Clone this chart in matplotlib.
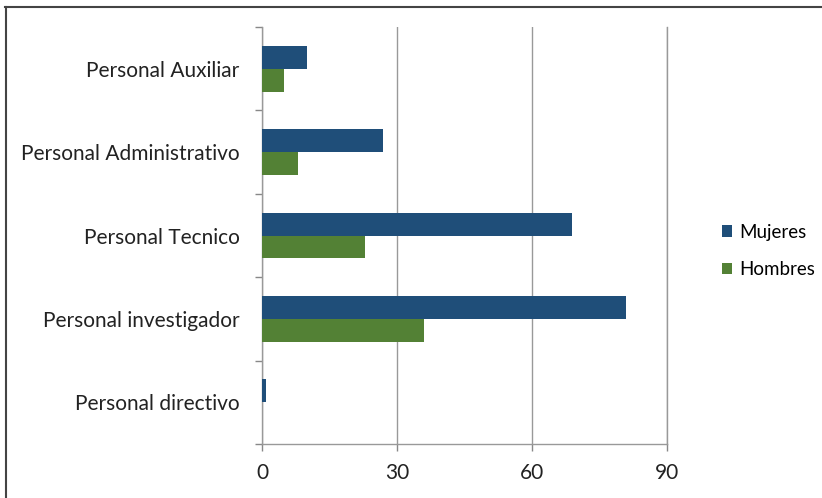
import numpy as np
import matplotlib.pyplot as plt
from matplotlib.lines import Line2D

plt.rcParams['font.family'] = ['Lato', 'DejaVu Sans']

# data (bottom to top)
categorias = ['Personal directivo', 'Personal investigador', 'Personal Tecnico',
              'Personal Administrativo', 'Personal Auxiliar']
mujeres = [1, 81, 69, 27, 10]
hombres = [0, 36, 23, 8, 5]
x_ticks = [0, 30, 60, 90]

azul = '#1F4E79'
verde = '#538135'

fig = plt.figure(figsize=(8.22, 4.98), dpi=100)
ax = fig.add_axes([0.3187, 0.1084, 0.4927, 0.8374])

y = np.arange(len(categorias))
h = 0.275
ax.barh(y + h / 2, mujeres, height=h, color=azul, linewidth=0, label='Mujeres', zorder=3)
ax.barh(y - h / 2, hombres, height=h, color=verde, linewidth=0, label='Hombres', zorder=3)

ax.set_xlim(0, 90)
ax.set_ylim(-0.5, len(categorias) - 0.5)
ax.set_xticks(x_ticks)
ax.set_xticklabels([str(v) for v in x_ticks], fontsize=15, color='#222222')
ax.set_yticks(y)
ax.set_yticklabels(categorias, fontsize=15, color='#222222')
ax.set_yticks(np.arange(-0.5, len(categorias)), minor=True)
ax.tick_params(axis='y', which='major', length=0, pad=16)
ax.tick_params(axis='y', which='minor', length=5, color='#888888', width=1)
ax.tick_params(axis='x', length=5, color='#888888', width=1, pad=9)

ax.grid(axis='x', color='#999999', linewidth=1, zorder=0)
ax.spines['top'].set_visible(False)
for s in ['left', 'bottom', 'right']:
    ax.spines[s].set_color('#999999')
    ax.spines[s].set_linewidth(1)

fig.legend(loc='center left', bbox_to_anchor=(0.858, 0.496), frameon=False, fontsize=13.5,
           handlelength=0.55, handleheight=0.55, handletextpad=0.35, labelspacing=1.1)

# outer frame (top and left edges)
fig.add_artist(Line2D([0.006, 1.0], [0.986, 0.986], color='#444444', linewidth=1.5, transform=fig.transFigure))
fig.add_artist(Line2D([0.007, 0.007], [0.0, 0.986], color='#444444', linewidth=1.5, transform=fig.transFigure))

fig.savefig('out.png', dpi=100)
